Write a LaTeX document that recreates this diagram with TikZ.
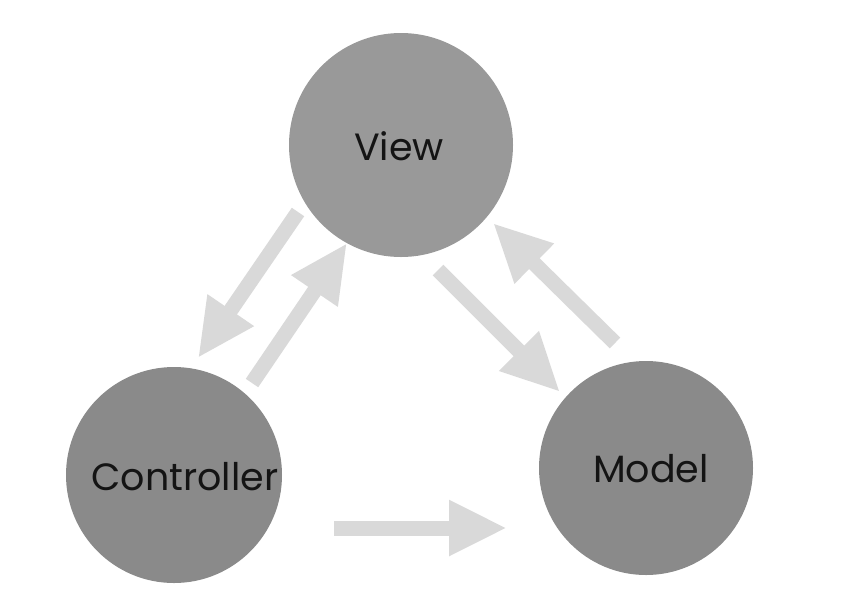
\documentclass[tikz,border=0pt]{standalone}
\usepackage{fontspec}
\setmainfont{Poppins}
\usetikzlibrary{arrows.meta}
\definecolor{viewgray}{HTML}{999999}
\definecolor{nodegray}{HTML}{8A8A8A}
\definecolor{arrowgray}{HTML}{D9D9D9}
\tikzset{
  blob/.style={circle, inner sep=0pt, minimum size=#1, fill=nodegray, draw=none},
  lbl/.style={font=\fontsize{38}{44}\selectfont, text=black!92},
  blockarrow/.style={draw=arrowgray, line width=15pt, line cap=butt,
    -{Triangle[width=52pt,length=58pt]}, arrowgray}
}
\begin{document}
\begin{tikzpicture}[x=1pt,y=-1pt]
\useasboundingbox (0,0) rectangle (848,590);
\fill[white] (0,0) rectangle (848,590);
\node[blob=224pt, fill=viewgray] (view) at (401,145) {};
\node[blob=216pt] (ctrl) at (174,475) {};
\node[blob=214pt] (model) at (646,468) {};
\node[lbl] (viewtxt) at (399,146) {View};
\node[lbl] (ctrltxt) at (185,477) {Controller};
\node[lbl] (modeltxt) at (651,469) {Model};
\coordinate (vc1) at (298,212);
\coordinate (vc2) at (198,358);
\coordinate (cv1) at (252,383);
\coordinate (cv2) at (347,243);
\coordinate (vm1) at (438,270);
\coordinate (vm2) at (560,392);
\coordinate (mv1) at (615,343);
\coordinate (mv2) at (493,223);
\coordinate (cm1) at (334,528);
\coordinate (cm2) at (507,528);
\draw[blockarrow] (vc1) -- (vc2);
\draw[blockarrow] (cv1) -- (cv2);
\draw[blockarrow] (vm1) -- (vm2);
\draw[blockarrow] (mv1) -- (mv2);
\draw[blockarrow] (cm1) -- (cm2);
\end{tikzpicture}
\end{document}
